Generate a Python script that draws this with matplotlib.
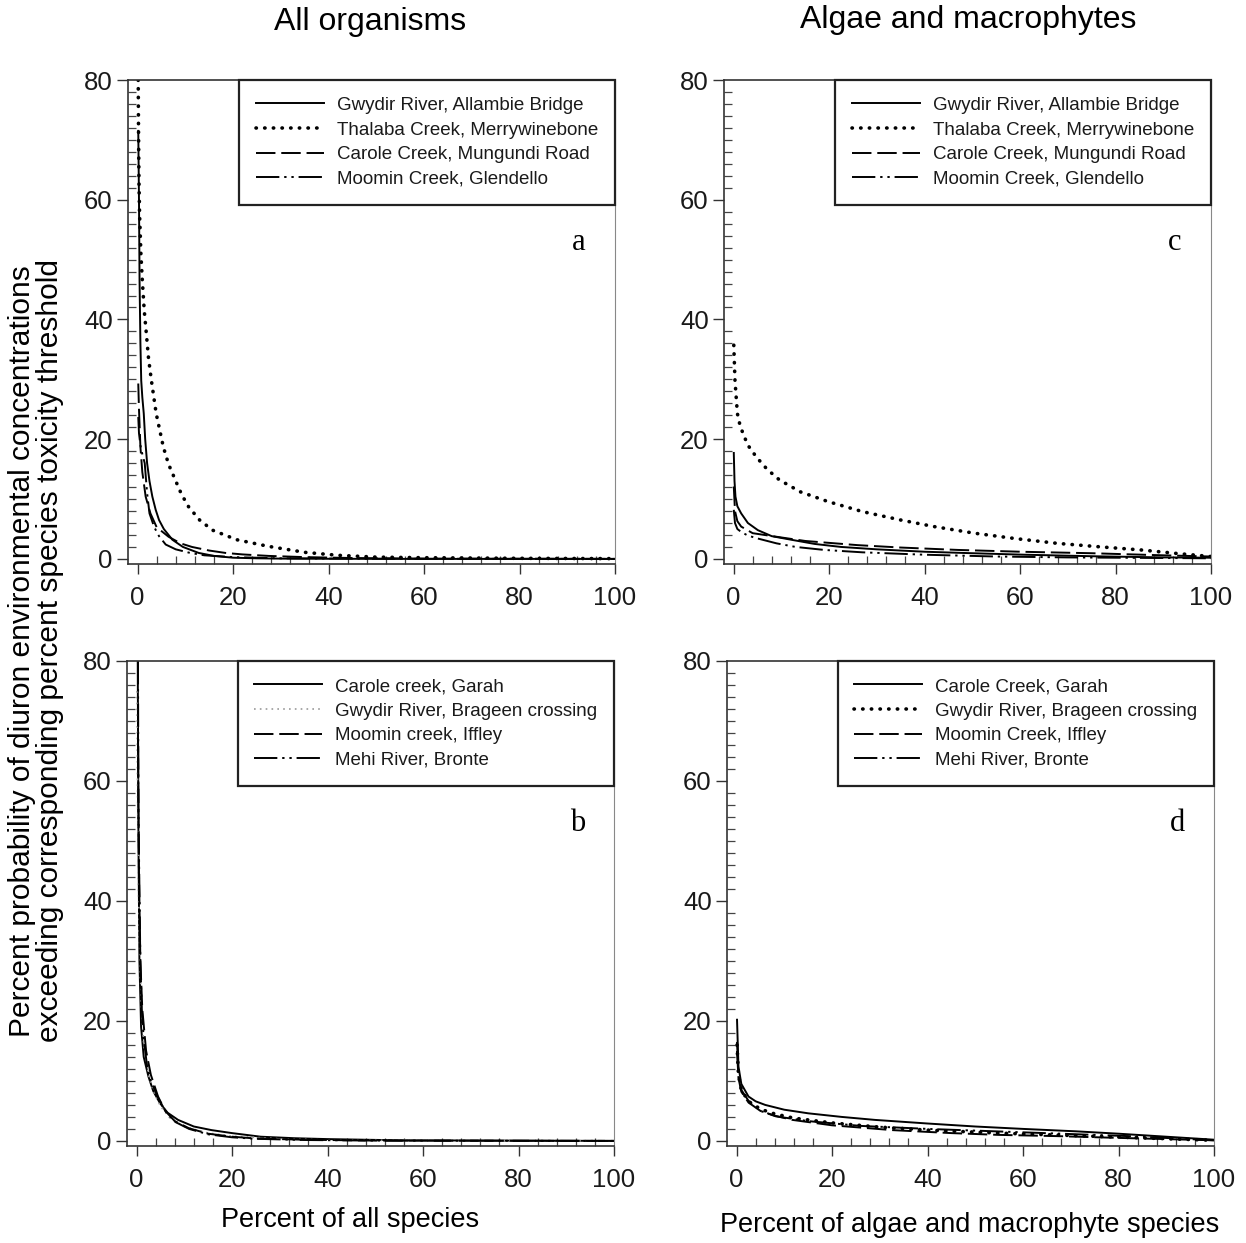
import matplotlib
matplotlib.use("Agg")
import matplotlib.pyplot as plt
from matplotlib.ticker import MultipleLocator

plt.rcParams["font.family"] = ["Liberation Sans", "DejaVu Sans"]

# ---- panel a: all organisms, sites set 1 ----
a_labels = ["Gwydir River, Allambie Bridge", "Thalaba Creek, Merrywinebone",
            "Carole Creek, Mungundi Road", "Moomin Creek, Glendello"]
a_x1 = [0.15, 0.3, 0.42, 0.6, 0.77, 1.0, 1.3, 1.6, 2.0, 2.5, 3.1, 3.8, 4.5, 5.5, 7.3, 9.5, 12.8, 16, 20, 25, 30, 40, 60, 100]
a_y1 = [71.5, 60, 46.5, 36, 29.8, 27, 24.3, 20, 16, 13, 10.4, 8.2, 6.5, 5.0, 3.2, 2.0, 1.0, 0.5, 0.2, 0.1, 0.05, 0.02, 0, 0]
a_x2 = [0.14, 0.2, 0.3, 0.42, 0.7, 1.0, 1.4, 1.8, 2.3, 2.9, 3.9, 5.4, 6.5, 7.9, 9.2, 10.7, 13, 15.7, 20.8, 27.4, 35, 42, 50, 60, 80, 100]
a_y2 = [80, 72, 63, 57.7, 51, 46.5, 41.5, 38, 33.5, 29.8, 24.3, 18.7, 15.8, 13.2, 10.8, 8.7, 6.5, 4.8, 3.2, 2.1, 1.1, 0.6, 0.3, 0.2, 0.1, 0.05]
a_x3 = [0.15, 0.3, 0.6, 1.0, 1.7, 2.7, 4, 6.5, 9, 11.4, 15, 18.4, 22, 27.5, 35, 45, 60, 100]
a_y3 = [29.3, 25, 18.7, 14.5, 10.4, 7.6, 5.3, 3.7, 2.6, 2.0, 1.4, 1.0, 0.75, 0.5, 0.3, 0.15, 0.05, 0]
a_x4 = [0.15, 0.3, 0.6, 1.0, 1.5, 2.0, 2.5, 3.5, 4.5, 5.9, 8, 11, 14, 20, 30, 50, 100]
a_y4 = [23.7, 21, 19, 17.5, 16, 11, 7.6, 5.3, 3.8, 2.4, 1.6, 1.0, 0.6, 0.3, 0.1, 0.03, 0]

# ---- panel c: algae and macrophytes, sites set 1 ----
c_x1 = [0.05, 0.2, 0.4, 0.8, 1.6, 3, 5.1, 8, 12.1, 17, 22.5, 30, 40, 50, 61, 75, 90, 100]
c_y1 = [17.7, 13, 10.4, 8.8, 7.6, 6.0, 4.8, 3.8, 3.2, 2.5, 2.0, 1.6, 1.2, 0.95, 0.7, 0.45, 0.25, 0.2]
c_x2 = [0.05, 0.3, 0.8, 1.3, 1.95, 3, 4.8, 7, 9.6, 14, 19.7, 27, 35, 42, 50.4, 59, 67.8, 77, 85.3, 93, 100]
c_y2 = [35.7, 29.8, 24.3, 22.5, 21, 19, 17, 15, 13.2, 11.2, 9.6, 7.9, 6.5, 5.4, 4.3, 3.4, 2.6, 2.0, 1.5, 0.9, 0.4]
c_x3 = [0.05, 0.3, 0.8, 1.6, 4, 9, 15, 26, 35, 47, 60, 75, 90, 100]
c_y3 = [12.1, 8.0, 6.3, 5.4, 4.3, 3.7, 3.0, 2.3, 1.9, 1.5, 1.2, 0.95, 0.6, 0.4]
c_x4 = [0.05, 0.3, 0.8, 1.6, 3, 5.1, 9, 13, 19, 27, 40, 55, 70, 100]
c_y4 = [8.2, 6.0, 5.0, 4.5, 3.9, 3.4, 2.6, 2.0, 1.5, 1.1, 0.7, 0.4, 0.25, 0.1]

# ---- panel b: all organisms, sites set 2 ----
b_labels = ["Carole creek, Garah", "Gwydir River, Brageen crossing",
            "Moomin creek, Iffley", "Mehi River, Bronte"]
b_x1 = [0.25, 0.4, 0.6, 0.95, 1.5, 2.5, 3.5, 4.9, 6.5, 8.7, 12, 15.7, 20, 26, 33, 40, 55, 100]
b_y1 = [80, 50, 30, 19, 14, 10.7, 8.3, 6.3, 4.7, 3.5, 2.4, 1.8, 1.3, 0.7, 0.45, 0.3, 0.1, 0]
b_x2 = [0.1, 0.2, 0.4, 0.7, 1.0, 1.5, 2.5, 3.5, 5, 7, 10, 15, 20, 30, 40, 60, 100]
b_y2 = [75, 60, 42, 30, 23, 16, 11, 8.3, 5.8, 3.8, 2.4, 1.3, 0.8, 0.35, 0.15, 0.05, 0]
b_x3 = [0.3, 0.5, 0.8, 1.2, 2, 3, 4.5, 6, 8, 11, 15, 20, 25, 35, 50, 100]
b_y3 = [68, 45, 30, 22, 15, 11, 7.4, 5.0, 3.3, 2.1, 1.2, 0.7, 0.4, 0.2, 0.05, 0]
b_x4 = [0.3, 0.4, 0.6, 0.8, 1.1, 1.5, 2.2, 3, 4.5, 6, 8, 11, 15, 20, 25, 35, 50, 100]
b_y4 = [80, 55, 42, 30, 22, 17, 12.5, 10, 7.2, 5.0, 3.2, 2.0, 1.1, 0.6, 0.35, 0.15, 0.05, 0]

# ---- panel d: algae and macrophytes, sites set 2 ----
d_labels = ["Carole Creek, Garah", "Gwydir River, Brageen crossing",
            "Moomin Creek, Iffley", "Mehi River, Bronte"]
d_x1 = [0.1, 0.4, 1.0, 2.5, 4, 6, 10, 15, 22, 29, 40, 50, 60, 71, 80, 88, 100]
d_y1 = [20.2, 12.4, 9.5, 7.4, 6.6, 6.0, 5.2, 4.6, 4.0, 3.5, 2.9, 2.4, 2.0, 1.6, 1.2, 0.8, 0.2]
d_x2 = [0.1, 0.4, 1.0, 2.5, 5, 8, 12, 20, 30, 40, 55, 70, 85, 100]
d_y2 = [16, 11, 8.5, 6.6, 5.3, 4.5, 3.8, 3.0, 2.3, 1.8, 1.3, 0.9, 0.5, 0.1]
d_x3 = [0.1, 0.4, 1.0, 2.5, 5, 8, 11.7, 20, 32.6, 45, 55, 67, 80, 100]
d_y3 = [15, 10.5, 8.2, 6.4, 5.0, 4.2, 3.5, 2.6, 1.8, 1.3, 1.0, 0.8, 0.5, 0.1]
d_x4 = [0.1, 0.4, 1.0, 2.5, 5, 8.2, 15, 26, 40, 54, 68, 82, 100]
d_y4 = [16.5, 11, 8.5, 6.7, 5.0, 4.1, 3.3, 2.5, 2.0, 1.6, 1.2, 0.8, 0.1]

W, H = 1246, 1243
fig = plt.figure(figsize=(W / 100, H / 100), dpi=100)


def rect(left, top, right, bottom):
    return [left / W, 1 - bottom / H, (right - left) / W, (bottom - top) / H]


styles = [
    dict(color="black", lw=1.4, ls="-"),
    dict(color="black", lw=2.6, ls=(0, (0.1, 2.3)), dash_capstyle="round"),
    dict(color="black", lw=1.4, ls=(0, (10, 3))),
    dict(color="black", lw=1.4, ls=(0, (12, 2.5, 1.2, 2.5, 1.2, 2.5))),
]
grey_dots = dict(color="#9a9a9a", lw=1.2, ls=(0, (1, 2.5)))


def panel(r, series, labels, letter, dotted=None):
    ax = fig.add_axes(r)
    for i, (xs, ys) in enumerate(series):
        st = styles[i] if not (i == 1 and dotted) else dotted
        ax.plot(xs, ys, label=labels[i], **st)
    ax.set_xlim(-2, 100)
    ax.set_ylim(-0.85, 80)
    ax.xaxis.set_major_locator(MultipleLocator(20))
    ax.xaxis.set_minor_locator(MultipleLocator(4))
    ax.yaxis.set_major_locator(MultipleLocator(20))
    ax.yaxis.set_minor_locator(MultipleLocator(2))
    ax.tick_params(which="major", direction="out", length=7, width=1,
                   color="#333333", labelsize=18.5, labelcolor="#1a1a1a")
    ax.tick_params(axis="y", which="major", length=8, pad=3)
    ax.tick_params(axis="x", which="major", pad=9)
    ax.tick_params(which="minor", direction="in", length=5.5, width=0.9, color="#444444")
    for s in ["left", "bottom", "top"]:
        ax.spines[s].set_color("#333333")
        ax.spines[s].set_linewidth(1.2)
    ax.spines["right"].set_color("#888888")
    ax.spines["right"].set_linewidth(0.8)
    leg = ax.legend(loc="upper right", bbox_to_anchor=(1, 1), borderaxespad=0,
                    fontsize=13.5, handlelength=3.6, handletextpad=0.7,
                    labelspacing=0.4, borderpad=0.9, fancybox=False,
                    framealpha=1)
    leg.get_frame().set_edgecolor("#222222")
    leg.get_frame().set_linewidth(1.6)
    for t in leg.get_texts():
        t.set_color("#1a1a1a")
    ax.text(0.925, 0.665, letter, transform=ax.transAxes, fontsize=22,
            family=["Liberation Serif", "DejaVu Serif"], ha="center", va="center")
    return ax


panel(rect(128, 80, 615, 564), [(a_x1, a_y1), (a_x2, a_y2), (a_x3, a_y3), (a_x4, a_y4)],
      a_labels, "a")
panel(rect(724, 80, 1211, 564), [(c_x1, c_y1), (c_x2, c_y2), (c_x3, c_y3), (c_x4, c_y4)],
      a_labels, "c")
panel(rect(127, 661, 614, 1146), [(b_x1, b_y1), (b_x2, b_y2), (b_x3, b_y3), (b_x4, b_y4)],
      b_labels, "b", dotted=grey_dots)
panel(rect(727, 661, 1214, 1146), [(d_x1, d_y1), (d_x2, d_y2), (d_x3, d_y3), (d_x4, d_y4)],
      d_labels, "d")

fig.text(370 / W, 1 - 22 / H, "All organisms", fontsize=23, ha="center", va="center")
fig.text(968 / W, 1 - 20 / H, "Algae and macrophytes", fontsize=23, ha="center", va="center")
fig.text(350 / W, 1 - 1220 / H, "Percent of all species", fontsize=19.5, ha="center", va="center")
fig.text(970 / W, 1 - 1225 / H, "Percent of algae and macrophyte species", fontsize=19.5,
         ha="center", va="center")
fig.text(36 / W, 1 - 651 / H,
         "Percent probability of diuron environmental concentrations\n"
         "exceeding corresponding percent species toxicity threshold",
         fontsize=21.5, rotation=90, ha="center", va="center", multialignment="center",
         linespacing=1.0)

fig.savefig("out.png", dpi=100, facecolor="white")
